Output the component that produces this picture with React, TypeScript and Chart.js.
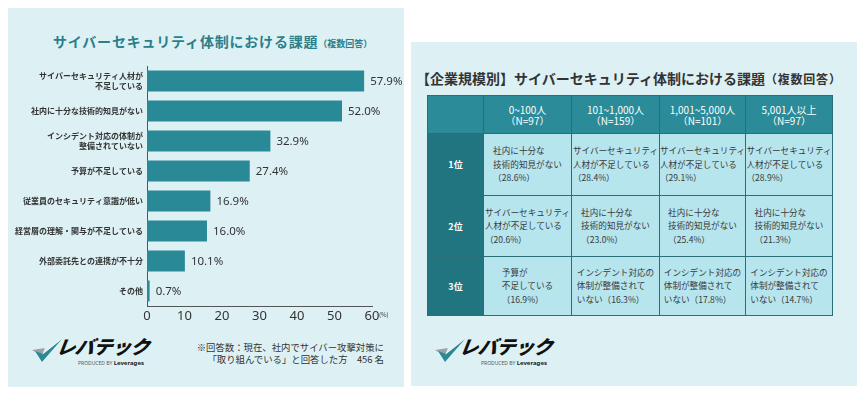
import React, { useEffect, useRef } from "react";
import { Chart, registerables } from "chart.js";
Chart.register(...registerables);

// ---------- data ----------
const categories: (string | string[])[] = [
  ["サイバーセキュリティ人材が", "不足している"],
  "社内に十分な技術的知見がない",
  ["インシデント対応の体制が", "整備されていない"],
  "予算が不足している",
  "従業員のセキュリティ意識が低い",
  "経営層の理解・関与が不足している",
  "外部委託先との連携が不十分",
  "その他",
];
const values = [57.9, 52.0, 32.9, 27.4, 16.9, 16.0, 10.1, 0.7];
const xTicks = [0, 10, 20, 30, 40, 50, 60];

const leftTitle = "サイバーセキュリティ体制における課題";
const rightTitle = "【企業規模別】サイバーセキュリティ体制における課題";
const titleSuffix = "（複数回答）";
const footnoteLines = ["※回答数：現在、社内でサイバー攻撃対策に", "「取り組んでいる」と回答した方　456 名"];

const sizeHeaders = [
  ["0~100人", "（N=97）"],
  ["101~1,000人", "（N=159）"],
  ["1,001~5,000人", "（N=101）"],
  ["5,001人以上", "（N=97）"],
];
const rankLabels = ["1位", "2位", "3位"];
const rank1 = [
  ["社内に十分な", "技術的知見がない", "（28.6%）"],
  ["サイバーセキュリティ", "人材が不足している", "（28.4%）"],
  ["サイバーセキュリティ", "人材が不足している", "（29.1%）"],
  ["サイバーセキュリティ", "人材が不足している", "（28.9%）"],
];
const rank2 = [
  ["サイバーセキュリティ", "人材が不足している", "（20.6%）"],
  ["社内に十分な", "技術的知見がない", "（23.0%）"],
  ["社内に十分な", "技術的知見がない", "（25.4%）"],
  ["社内に十分な", "技術的知見がない", "（21.3%）"],
];
const rank3 = [
  ["予算が", "不足している", "（16.9%）"],
  ["インシデント対応の", "体制が整備されて", "いない（16.3%）"],
  ["インシデント対応の", "体制が整備されて", "いない（17.8%）"],
  ["インシデント対応の", "体制が整備されて", "いない（14.7%）"],
];
const rankRows = [rank1, rank2, rank3];

// ---------- styles ----------
const FONT = '"Noto Sans CJK JP", "Noto Sans", sans-serif';
const PANEL_BG = "#ddf1f5";
const BAR = "#2a8996";
const HEAD_BG = "#2b8b98";
const RANK_BG = "#217580";
const CELL_BG = "#b6e5ee";
const LINE = "#2c6e77";

const labelPlugin = {
  id: "valueLabels",
  afterDatasetsDraw(chart: any) {
    const { ctx } = chart;
    const meta = chart.getDatasetMeta(0);
    ctx.save();
    ctx.font = '11.5px "Noto Sans", "Noto Sans CJK JP", sans-serif';
    ctx.fillStyle = "#333";
    ctx.textBaseline = "middle";
    ctx.textAlign = "left";
    meta.data.forEach((bar: any, i: number) => {
      ctx.fillText(values[i].toFixed(1) + "%", bar.x + 6, bar.y + 1);
    });
    const xs = chart.scales.x;
    ctx.font = '6px "Noto Sans CJK JP", sans-serif';
    ctx.fillText("(%)", xs.right + 7, xs.top + 9);
    ctx.restore();
  },
};

function Logo() {
  return (
    <div style={{ position: "relative", width: 115, height: 34 }}>
      <svg width="30" height="24" viewBox="0 0 30 24" style={{ position: "absolute", left: 0, top: 5 }}>
        <polygon points="0,11 13,9 10,17" fill="#9aa3a6" />
        <polygon points="3,12 10,23 30,0 11,15" fill="#2a8996" />
        <polygon points="10,17 13,9 30,0 11,15" fill="#e9eef0" />
      </svg>
      <div
        style={{
          position: "absolute",
          left: 25,
          top: -2,
          fontSize: 19,
          fontWeight: 900,
          fontStyle: "italic",
          color: "#111",
          letterSpacing: -0.5,
          whiteSpace: "nowrap",
          transform: "skewX(-8deg)",
        }}
      >
        レバテック
      </div>
      <div
        style={{
          position: "absolute",
          left: 46,
          top: 25,
          fontSize: 5,
          color: "#555",
          whiteSpace: "nowrap",
          fontFamily: '"Noto Sans", sans-serif',
        }}
      >
        PRODUCED BY <b style={{ color: "#222", fontSize: 6 }}>Leverages</b>
      </div>
    </div>
  );
}

function BarChart() {
  const ref = useRef<HTMLCanvasElement>(null);
  useEffect(() => {
    if (!ref.current) return;
    Chart.defaults.font.family = FONT;
    const chart = new Chart(ref.current, {
      type: "bar",
      data: {
        labels: categories as any,
        datasets: [
          {
            data: values,
            backgroundColor: BAR,
            barPercentage: 0.7,
            categoryPercentage: 1,
          },
        ],
      },
      options: {
        indexAxis: "y",
        responsive: false,
        animation: false,
        layout: { padding: { top: 16, right: 32, left: 0, bottom: 0 } },
        plugins: { legend: { display: false }, tooltip: { enabled: false } },
        scales: {
          x: {
            min: xTicks[0],
            max: xTicks[xTicks.length - 1],
            afterBuildTicks: (s: any) => {
              s.ticks = xTicks.map((v) => ({ value: v }));
            },
            ticks: { color: "#333", font: { size: 13, family: '"Noto Sans", sans-serif' }, padding: 2 },
            grid: { display: false, drawTicks: false },
            border: { display: true, color: "#555", width: 1 },
            afterFit: (s: any) => {
              s.height = 24;
            },
          },
          y: {
            ticks: { color: "#333", font: { size: 8, weight: "bold" }, padding: 4, autoSkip: false },
            grid: { display: false, drawTicks: false },
            border: { display: true, color: "#555", width: 1 },
            afterFit: (s: any) => {
              s.width = 139;
            },
          },
        },
      } as any,
      plugins: [labelPlugin],
    });
    return () => chart.destroy();
  }, []);
  return <canvas ref={ref} width={396} height={280} style={{ position: "absolute", left: 0, top: 42 }} />;
}

const cellBase: React.CSSProperties = {
  border: `1px solid ${LINE}`,
  padding: 0,
  boxSizing: "border-box",
};

function Table() {
  const colW = [56, 88, 88, 86, 87];
  const rowH = [38, 62, 61, 59];
  return (
    <table
      style={{
        position: "absolute",
        left: 16,
        top: 53,
        borderCollapse: "collapse",
        tableLayout: "fixed",
        width: 405,
        fontFamily: FONT,
      }}
    >
      <colgroup>
        {colW.map((w, i) => (
          <col key={i} style={{ width: w }} />
        ))}
      </colgroup>
      <tbody>
        <tr style={{ height: rowH[0] }}>
          <td style={{ ...cellBase, background: HEAD_BG }} />
          {sizeHeaders.map((h, i) => (
            <td
              key={i}
              style={{
                ...cellBase,
                background: HEAD_BG,
                color: "#fff",
                fontSize: 10,
                lineHeight: "11px",
                textAlign: "center",
              }}
            >
              {h[0]}
              <br />
              {h[1]}
            </td>
          ))}
        </tr>
        {rankRows.map((row, r) => (
          <tr key={r} style={{ height: rowH[r + 1] }}>
            <td
              style={{
                ...cellBase,
                background: RANK_BG,
                color: "#fff",
                fontSize: 9,
                fontWeight: "bold",
                textAlign: "center",
              }}
            >
              {rankLabels[r]}
            </td>
            {row.map((lines, c) => (
              <td key={c} style={{ ...cellBase, background: CELL_BG }}>
                <div style={{ display: "flex", justifyContent: "center" }}>
                  <div
                    style={{
                      textAlign: "left",
                      fontSize: 8.6,
                      lineHeight: "13.5px",
                      color: "#3a3a3a",
                      whiteSpace: "nowrap",
                    }}
                  >
                    {lines.map((l, k) => (
                      <div key={k}>{l}</div>
                    ))}
                  </div>
                </div>
              </td>
            ))}
          </tr>
        ))}
      </tbody>
    </table>
  );
}

export default function App() {
  return (
    <div
      style={{
        position: "absolute",
        left: 0,
        top: 0,
        width: 860,
        height: 393,
        background: "#fff",
        fontFamily: FONT,
        overflow: "hidden",
      }}
    >
      {/* left panel */}
      <div style={{ position: "absolute", left: 8, top: 8, width: 396, height: 379, background: PANEL_BG }}>
        <div
          style={{
            position: "absolute",
            left: 45,
            top: 23,
            whiteSpace: "nowrap",
            color: "#2a7f8b",
            fontWeight: "bold",
            fontSize: 14,
            letterSpacing: 0.8,
            lineHeight: "20px",
          }}
        >
          {leftTitle}
          <span style={{ fontSize: 9, letterSpacing: 0 }}>{titleSuffix}</span>
        </div>
        <BarChart />
        <div style={{ position: "absolute", left: 24, top: 326 }}>
          <Logo />
        </div>
        <div
          style={{
            position: "absolute",
            right: 20,
            top: 333,
            fontSize: 9.4,
            lineHeight: "12px",
            color: "#333",
            textAlign: "right",
            whiteSpace: "nowrap",
          }}
        >
          <div>{footnoteLines[0]}</div>
          <div>{footnoteLines[1]}</div>
        </div>
      </div>
      {/* right panel */}
      <div style={{ position: "absolute", left: 411, top: 42, width: 446, height: 344, background: PANEL_BG }}>
        <div
          style={{
            position: "absolute",
            left: 5,
            top: 26,
            whiteSpace: "nowrap",
            color: "#333",
            fontWeight: "bold",
            fontSize: 14,
            lineHeight: "20px",
          }}
        >
          {rightTitle}
          <span style={{ fontSize: 12, letterSpacing: 0.8 }}>{titleSuffix}</span>
        </div>
        <Table />
        <div style={{ position: "absolute", left: 24, top: 292 }}>
          <Logo />
        </div>
      </div>
    </div>
  );
}
